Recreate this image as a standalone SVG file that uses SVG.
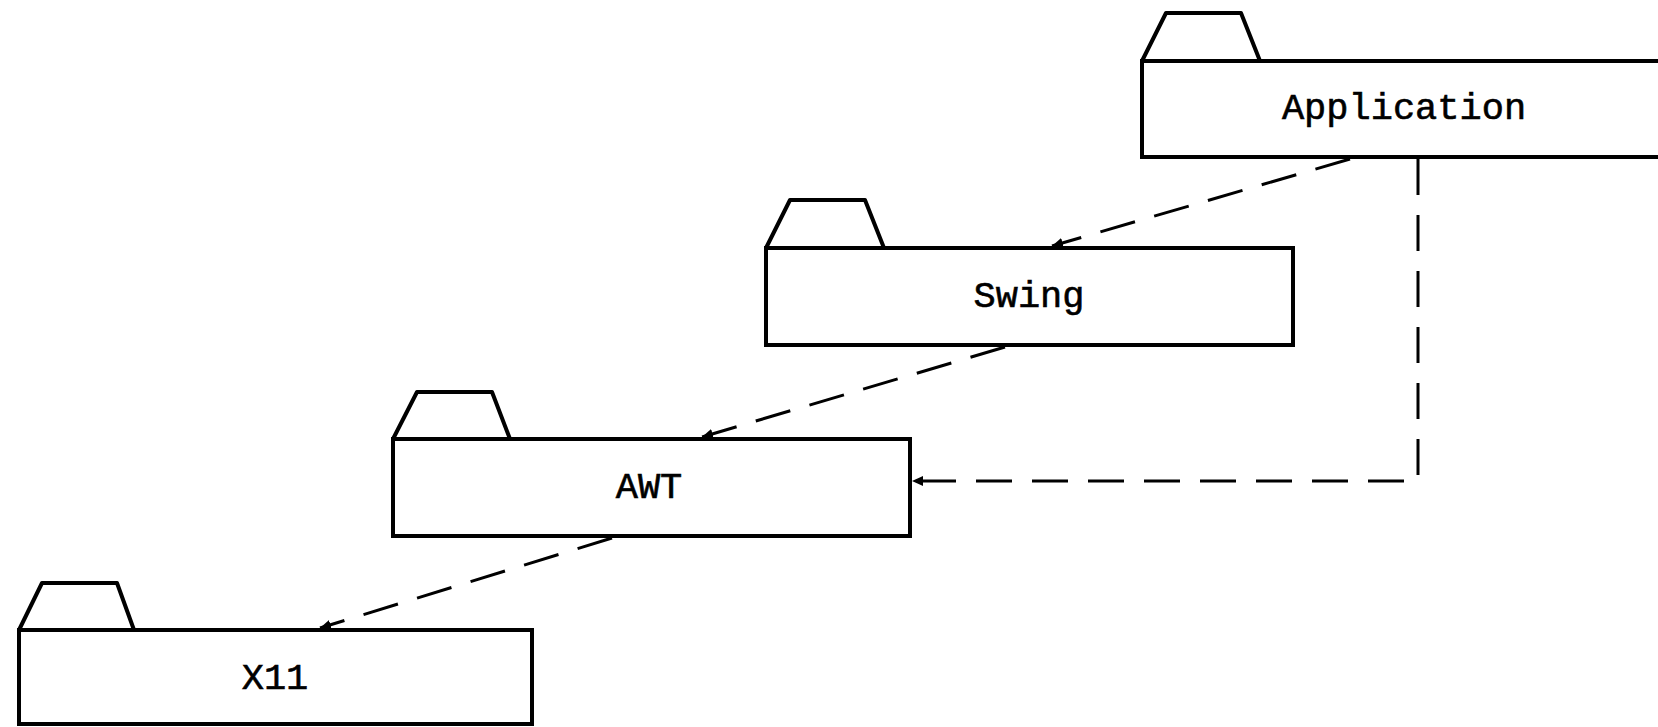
<svg xmlns="http://www.w3.org/2000/svg" width="1658" height="727" viewBox="0 0 1658 727">
<style>
.tab{fill:#fff;stroke:#000;stroke-width:4;stroke-linejoin:round}
.body{fill:#fff;stroke:#000;stroke-width:4}
.lbl{font-family:"Liberation Mono","DejaVu Sans Mono",monospace;font-size:37px;font-weight:normal;fill:#000;text-anchor:middle;stroke:#000;stroke-width:0.6}
.dep{fill:none;stroke:#000;stroke-width:3;stroke-dasharray:36 20}
</style>
<defs>
<marker id="arr" markerUnits="userSpaceOnUse" markerWidth="12" markerHeight="12" refX="11" refY="6" orient="auto">
<path d="M0,1 L11,6 L0,11 z" fill="#000"/>
</marker>
</defs>
<rect width="1658" height="727" fill="#fff"/>
<g id="application">
<path class="tab" d="M1142,61 L1166,13 L1241,13 L1260,61"/>
<rect class="body" x="1142" y="61" width="540" height="96"/>
<text class="lbl" x="1404" y="119">Application</text>
</g>
<g id="swing">
<path class="tab" d="M766,248 L790,200 L865,200 L884,248"/>
<rect class="body" x="766" y="248" width="527" height="97"/>
<text class="lbl" x="1029" y="307">Swing</text>
</g>
<g id="awt">
<path class="tab" d="M393,439 L417,392 L492,392 L510,439"/>
<rect class="body" x="393" y="439" width="517" height="97"/>
<text class="lbl" x="649" y="498">AWT</text>
</g>
<g id="x11">
<path class="tab" d="M19,630 L42,583 L117,583 L134,630"/>
<rect class="body" x="19" y="630" width="513" height="94"/>
<text class="lbl" x="275" y="689">X11</text>
</g>
<g id="connectors">
<path class="dep" d="M1350,159 L1052,246" marker-end="url(#arr)"/>
<path class="dep" d="M1005,347 L702,437" marker-end="url(#arr)"/>
<path class="dep" d="M612,538 L320,628" marker-end="url(#arr)"/>
<path class="dep" d="M1418,159 L1418,481 L912,481" marker-end="url(#arr)"/>
</g>
</svg>
